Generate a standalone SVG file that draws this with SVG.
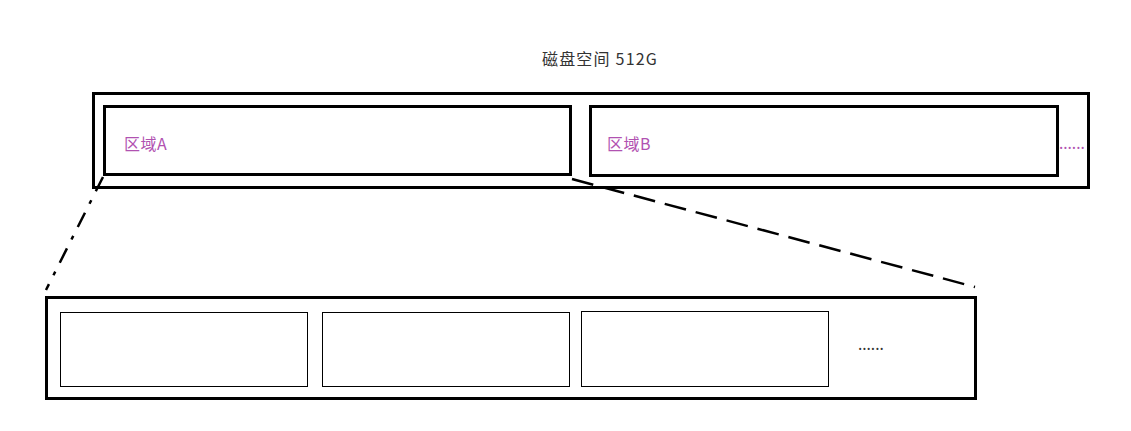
<svg xmlns="http://www.w3.org/2000/svg" width="1131" height="431" viewBox="0 0 1131 431">
<style>
.thick{fill:#fff;stroke:#000;stroke-width:3}
.thin{fill:#fff;stroke:#000;stroke-width:1}
.lbl{font-family:"Noto Sans CJK SC","Noto Sans",sans-serif;font-size:16px;fill:#b152b1;letter-spacing:0.5px}
.ttl{font-family:"Noto Sans CJK SC","Noto Sans",sans-serif;font-size:16px;fill:#333;letter-spacing:1.2px}
.dots{font-family:"Noto Sans",sans-serif;font-size:16px;letter-spacing:0}
.conn{fill:none;stroke:#000;stroke-width:2.5}
</style>
<rect width="1131" height="431" fill="#fff"/>
<text class="ttl" x="600" y="65" text-anchor="middle">磁盘空间 512G</text>
<g id="disk">
<rect class="thick" x="93.5" y="93.5" width="995" height="94"/>
</g>
<g id="regionA">
<rect class="thick" x="104.5" y="106.5" width="466" height="68"/>
<text class="lbl" x="124" y="150">区域A</text>
</g>
<g id="regionB">
<rect class="thick" x="590.5" y="106.5" width="467" height="69"/>
<text class="lbl" x="607" y="150">区域B</text>
<text class="lbl dots" x="1059" y="149">......</text>
</g>
<g id="detail">
<rect class="thick" x="46.5" y="297.5" width="929" height="101"/>
</g>
<g id="block1"><rect class="thin" x="60.5" y="312.5" width="247" height="74"/></g>
<g id="block2"><rect class="thin" x="322.5" y="312.5" width="247" height="74"/></g>
<g id="block3"><rect class="thin" x="581.5" y="311.5" width="247" height="75"/></g>
<text class="dots" x="858" y="350" fill="#333">......</text>
<g id="connectors">
<path class="conn" d="M103,177 L46,290" stroke-dasharray="16 10 4 10"/>
<path class="conn" d="M572,179 L975,287" stroke-dasharray="22 10"/>
</g>
</svg>
